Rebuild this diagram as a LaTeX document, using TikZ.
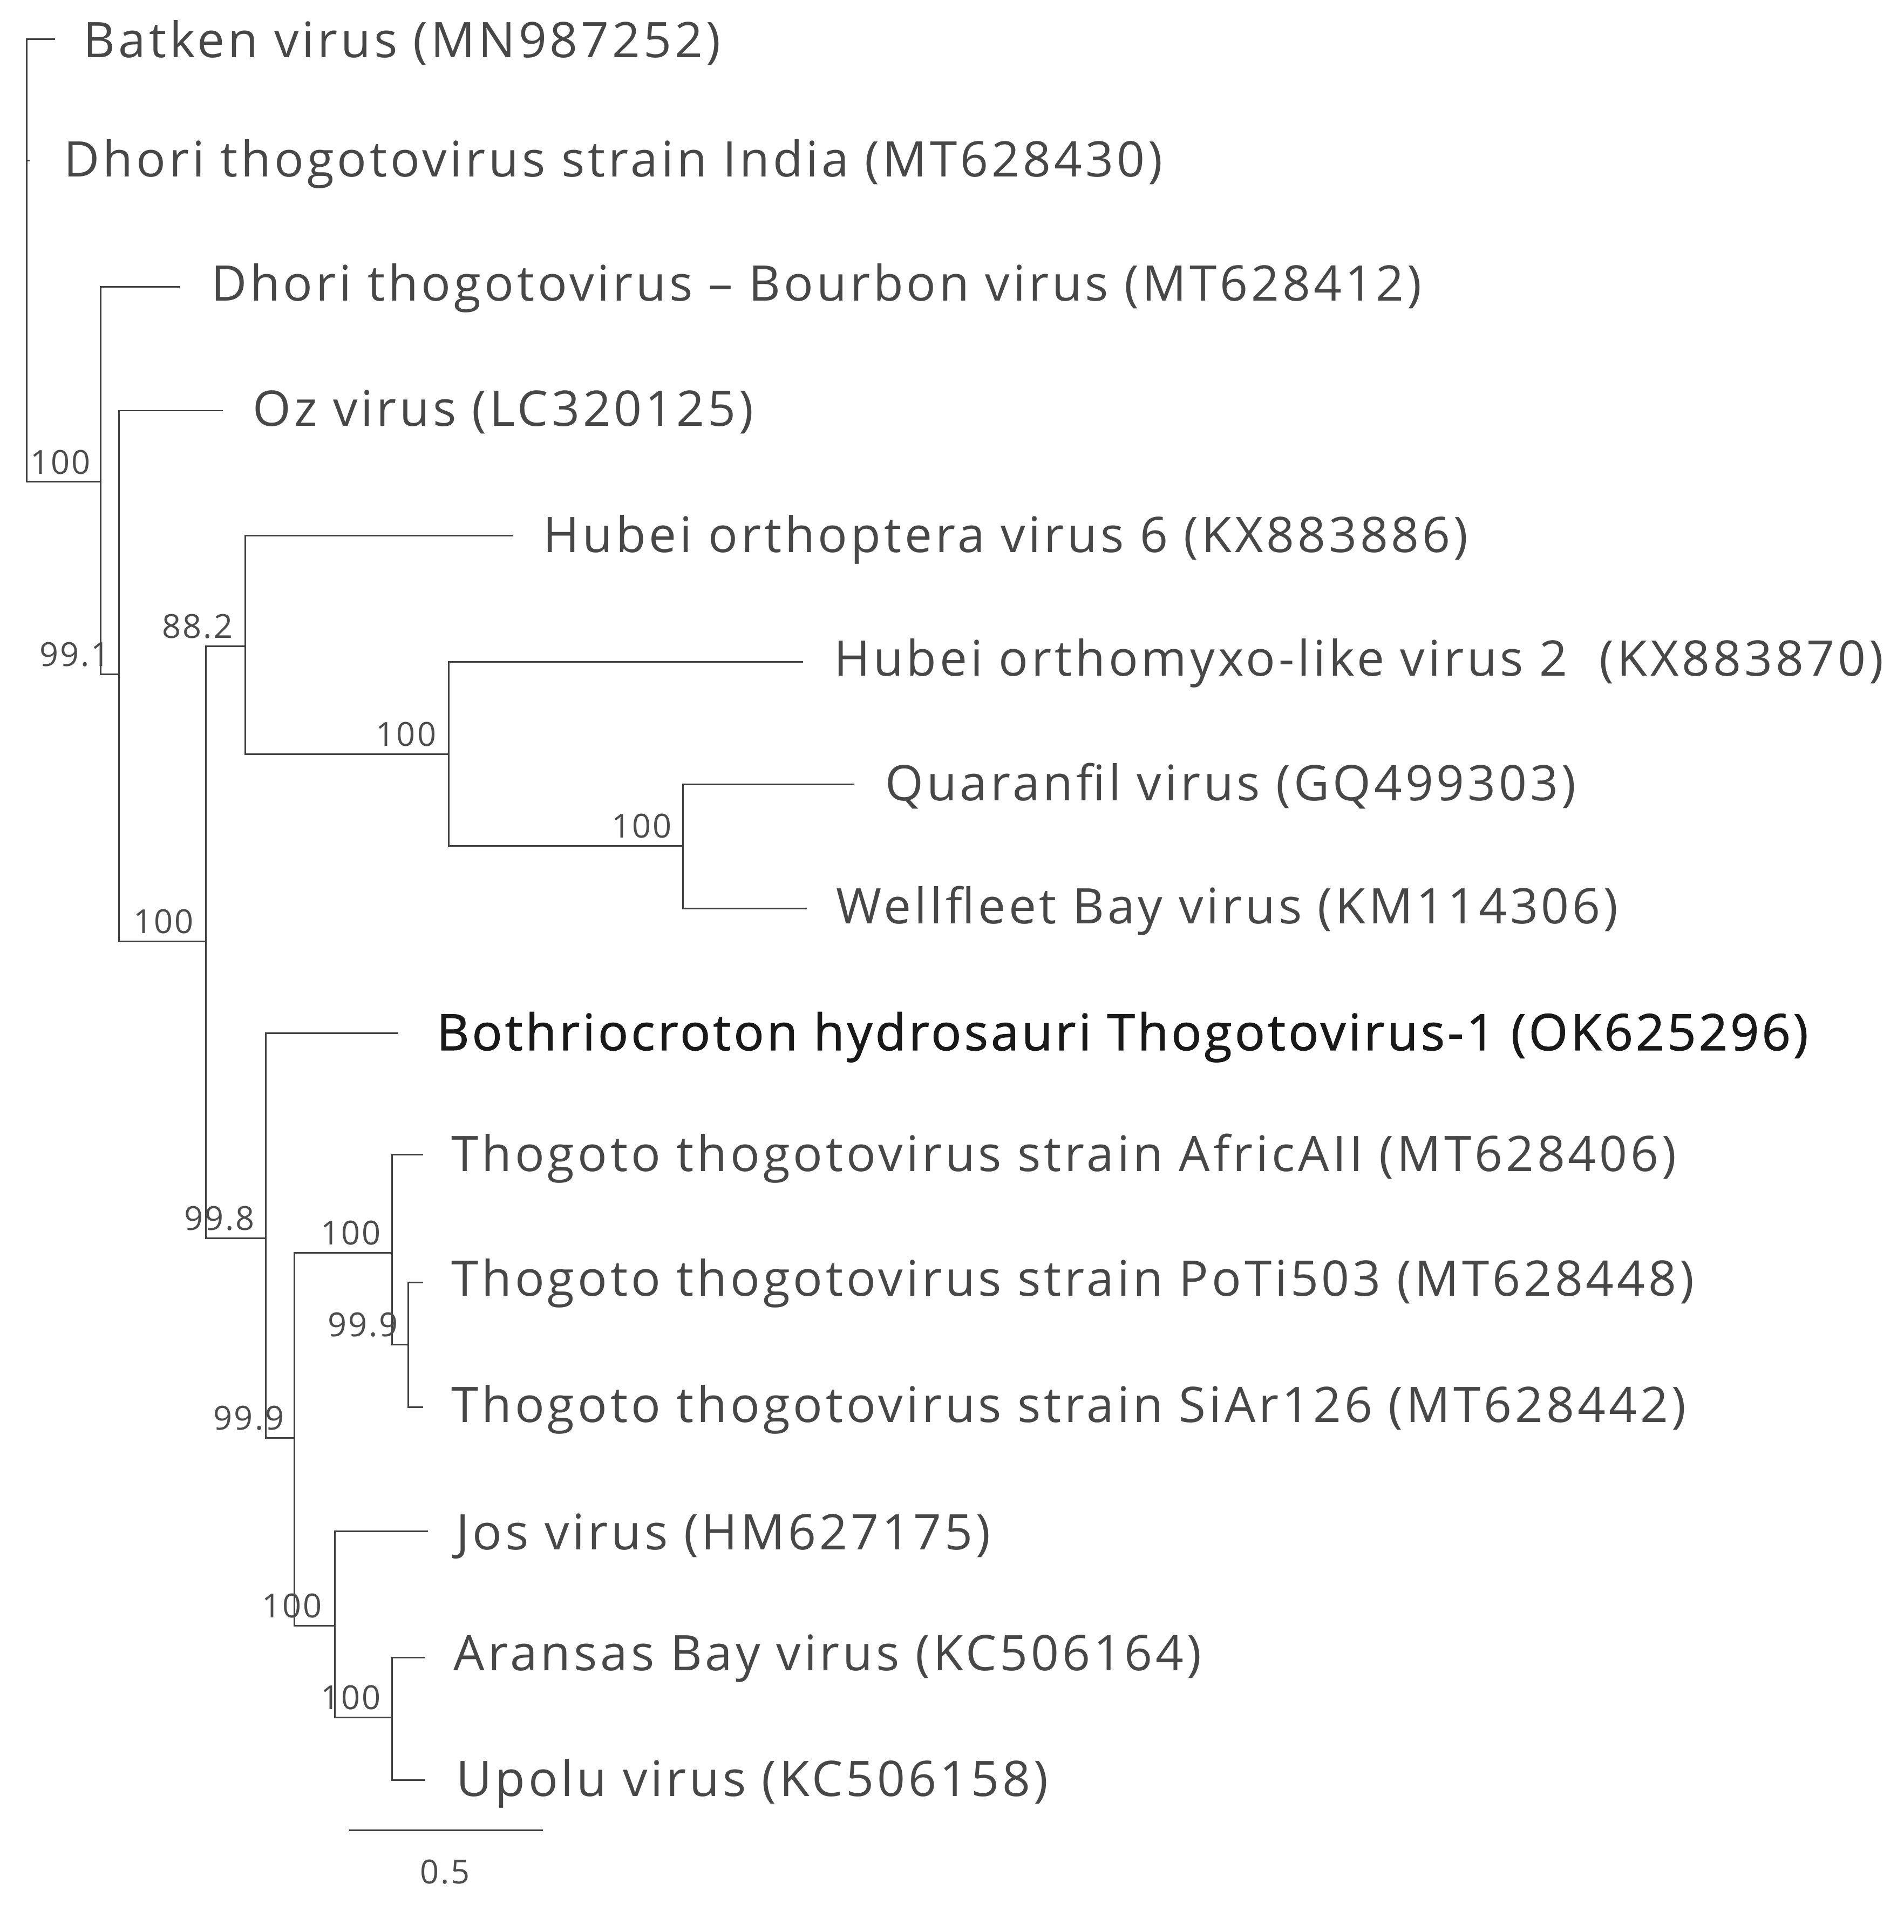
\documentclass[tikz,border=0pt]{standalone}
\usepackage{fontspec}
\setmainfont{Open Sans}
\newfontfamily\leaffont[LetterSpace=6.5]{Open Sans}
\newfontfamily\supfont[LetterSpace=5]{Open Sans}
\usetikzlibrary{calc}
\begin{document}
\begin{tikzpicture}[x=1pt,y=-1pt,
  br/.style={draw=black!75,line width=1.3pt},
  leaf/.style={anchor=west,inner sep=0pt,yshift=-3pt,text=black!72,font=\leaffont\fontsize{40}{42}\selectfont},
  sup/.style={anchor=south east,inner sep=0pt,text=black!70,font=\supfont\fontsize{27}{29}\selectfont}]
\useasboundingbox (0,0) rectangle (1553,1576);
% internal nodes
\coordinate (r) at (22,393);
\coordinate (n82) at (82,393);
\coordinate (n97) at (97,550);
\coordinate (n168) at (168,768);
\coordinate (n200) at (200,527);
\coordinate (n366) at (366,615);
\coordinate (n557) at (557,690);
\coordinate (n217) at (217,1010);
\coordinate (n240) at (240,1173);
\coordinate (n320) at (320,1022);
\coordinate (n333) at (333,1097);
\coordinate (n273) at (273,1326);
\coordinate (n320b) at (320,1401);
% leaves
\node[leaf] (l1) at (68,32) {Batken virus (MN987252)};
\node[leaf] (l2) at (52,131) {Dhori thogotovirus strain India (MT628430)};
\node[leaf] (l3) at (172,232) {Dhori thogotovirus – Bourbon virus (MT628412)};
\node[leaf] (l4) at (206,333) {Oz virus (LC320125)};
\node[leaf] (l5) at (443,437) {Hubei orthoptera virus 6 (KX883886)};
\node[leaf] (l6) at (680,538) {Hubei orthomyxo-like virus 2\ \ (KX883870)};
\node[leaf] (l7) at (722,638) {Quaranfil virus (GQ499303)};
\node[leaf] (l8) at (682,740) {Wellfleet Bay virus (KM114306)};
\node[leaf,text=black!90,font=\fontsize{41}{43}\selectfont] (l9) at (356,843) {\addfontfeature{FakeBold=1.2,LetterSpace=5.5}Bothriocroton hydrosauri Thogotovirus-1 (OK625296)};
\node[leaf] (l10) at (368,942) {Thogoto thogotovirus strain AfricAII (MT628406)};
\node[leaf] (l11) at (368,1044) {Thogoto thogotovirus strain PoTi503 (MT628448)};
\node[leaf] (l12) at (368,1147) {Thogoto thogotovirus strain SiAr126 (MT628442)};
\node[leaf] (l13) at (372,1250) {Jos virus (HM627175)};
\node[leaf] (l14) at (370,1350) {Aransas Bay virus (KC506164)};
\node[leaf] (l15) at (372,1452) {Upolu virus (KC506158)};
% branches
\draw[br] (45,32) -| (r.center) -- (n82);
\draw[br] (22,131) -- (24,131);
\draw[br] (147,234) -| (n82) |- (n97);
\draw[br] (182,335) -| (n97) |- (n168);
\draw[br] (n200) -| (n168) |- (n217);
\draw[br] (418,437) -| (n200) |- (n366);
\draw[br] (655,540) -| (n366) |- (n557);
\draw[br] (697,640) -| (n557) |- (658,741);
\draw[br] (325,843) -| (n217) |- (n240);
\draw[br] (n320) -| (n240) |- (n273);
\draw[br] (345,942) -| (n320) |- (n333);
\draw[br] (345,1046) -| (n333) |- (345,1148);
\draw[br] (349,1249) -| (n273) |- (n320b);
\draw[br] (347,1352) -| (n320b) |- (347,1452);
% supports
\node[sup] (s1) at ($(n82)+(-8,-6)$) {100};
\node[sup] (s2) at ($(n97)+(-7,-6)$) {99.1};
\node[sup] (s3) at ($(n168)+(-10,-6)$) {100};
\node[sup] (s4) at ($(n200)+(-10,-6)$) {88.2};
\node[sup] (s5) at ($(n366)+(-10,-6)$) {100};
\node[sup] (s6) at ($(n557)+(-9,-6)$) {100};
\node[sup] (s7) at ($(n217)+(-9,-6)$) {99.8};
\node[sup] (s8) at ($(n240)+(-8,-6)$) {99.9};
\node[sup] (s9) at ($(n320)+(-9,-6)$) {100};
\node[sup] (s10) at ($(n333)+(-8,-6)$) {99.9};
\node[sup] (s11) at ($(n273)+(-10,-6)$) {100};
\node[sup] (s12) at ($(n320b)+(-9,-6)$) {100};
% scale
\coordinate (sa) at (285,1493);
\coordinate (sb) at (443,1493);
\draw[br] (sa) -- (sb);
\node[inner sep=0pt,text=black!70,font=\supfont\fontsize{27}{29}\selectfont] (sl) at (363,1527) {0.5};
\end{tikzpicture}
\end{document}
